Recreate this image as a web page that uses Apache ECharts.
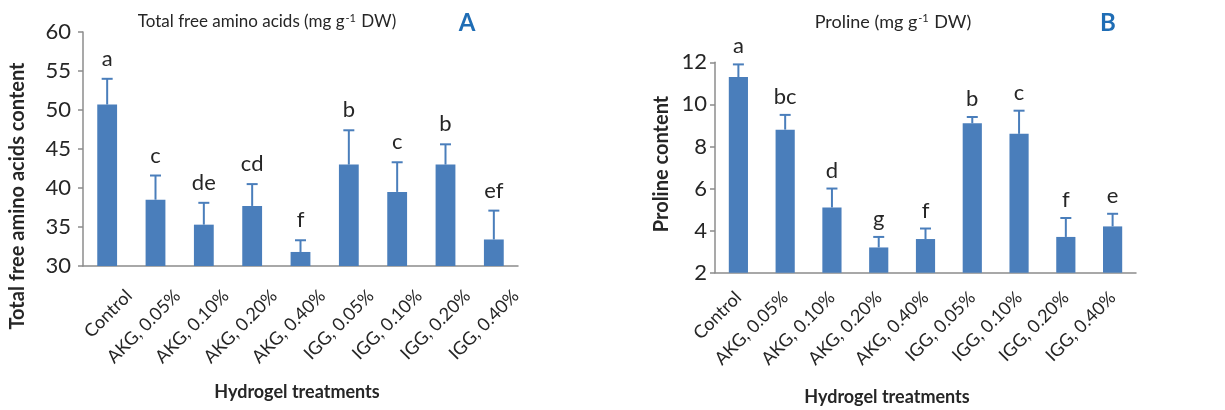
<!DOCTYPE html>
<html>
<head>
<meta charset="utf-8">
<script src="https://cdn.jsdelivr.net/npm/echarts@6/dist/echarts.min.js"></script>
<style>
  html, body { margin: 0; padding: 0; background: #fff; }
  #main { width: 1225px; height: 410px; }
</style>
</head>
<body>
<div id="main"></div>
<script>
// treatments on the x axis (same for both panels)
const categories = ['Control', 'AKG, 0.05%', 'AKG, 0.10%', 'AKG, 0.20%', 'AKG, 0.40%',
                    'IGG, 0.05%', 'IGG, 0.10%', 'IGG, 0.20%', 'IGG, 0.40%'];

// panel A: total free amino acids
const aminoMean = [50.7, 38.5, 35.3, 37.7, 31.8, 43.0, 39.5, 43.0, 33.4];
const aminoSD = [3.3, 3.1, 2.8, 2.8, 1.5, 4.4, 3.8, 2.6, 3.7];
const aminoLetters = ['a', 'c', 'de', 'cd', 'f', 'b', 'c', 'b', 'ef'];
const aminoTicks = [30, 35, 40, 45, 50, 55, 60];

// panel B: proline
const prolineMean = [11.3, 8.8, 5.1, 3.2, 3.6, 9.1, 8.6, 3.7, 4.2];
const prolineSD = [0.6, 0.7, 0.9, 0.5, 0.5, 0.3, 1.1, 0.9, 0.6];
const prolineLetters = ['a', 'bc', 'd', 'g', 'f', 'b', 'c', 'f', 'e'];
const prolineTicks = [2, 4, 6, 8, 10, 12];

const FONT = 'Lato';
const TXT = '#262626';
const BLUE = '#4a7ebb';
const AXIS = '#8c8c8c';

let myChart = echarts.init(document.getElementById('main'));

function xAxisOf(idx, labelOpts) {
    return {
        type: 'category', gridIndex: idx, data: categories,
        axisLine: { lineStyle: { color: AXIS, width: 1.5 } },
        axisTick: { length: 5, lineStyle: { color: AXIS, width: 1.5 } },
        axisLabel: Object.assign({ rotate: 45, fontSize: 18, color: TXT, fontFamily: FONT, interval: 0 }, labelOpts)
    };
}

function yAxisOf(idx, ticks, margin) {
    return {
        type: 'value', gridIndex: idx,
        min: ticks[0], max: ticks[ticks.length - 1], interval: ticks[1] - ticks[0],
        splitLine: { show: false },
        axisLine: { show: true, lineStyle: { color: AXIS, width: 1.5 } },
        axisTick: { show: true, length: 5, lineStyle: { color: AXIS, width: 1.5 } },
        axisLabel: { fontSize: 22, margin: margin, color: TXT, fontFamily: FONT }
    };
}

// error bar (upper half only) plus the significance letter above it
function errorSeries(idx, mean, sd, letters, gap) {
    return {
        type: 'custom', xAxisIndex: idx, yAxisIndex: idx, z: 5,
        data: mean.map((m, i) => [i, m, m + sd[i]]),
        renderItem: function (params, api) {
            let low = api.coord([api.value(0), api.value(1)]);
            let high = api.coord([api.value(0), api.value(2)]);
            let st = { stroke: BLUE, lineWidth: 2 };
            return {
                type: 'group',
                children: [
                    { type: 'line', shape: { x1: low[0], y1: low[1], x2: high[0], y2: high[1] }, style: st },
                    { type: 'line', shape: { x1: high[0] - 5.5, y1: high[1], x2: high[0] + 5.5, y2: high[1] }, style: st },
                    { type: 'text', style: {
                        text: letters[params.dataIndex], x: high[0], y: high[1] - gap,
                        textAlign: 'center', textVerticalAlign: 'bottom',
                        fontSize: 22, fontFamily: FONT, fill: TXT } }
                ]
            };
        }
    };
}

function barSeries(idx, mean) {
    return {
        type: 'bar', xAxisIndex: idx, yAxisIndex: idx, data: mean,
        barWidth: '41%', itemStyle: { color: BLUE }
    };
}

function label(text, x, y, opts) {
    return {
        type: 'text', x: x, y: y, rotation: opts.rotation || 0,
        style: Object.assign({
            text: text, textAlign: 'center', textVerticalAlign: 'middle',
            fontFamily: FONT, fill: TXT, fontSize: 17,
            rich: { sup: { fontSize: 11, verticalAlign: 'top', padding: [0, 1, 8, 1], fill: TXT, fontFamily: FONT } }
        }, opts.style || {})
    };
}

let option = {
    animation: false,
    grid: [
        { left: 83, top: 32, width: 435, height: 234, containLabel: false, outerBoundsMode: 'none' },
        { left: 715, top: 62.3, width: 421, height: 210.4, containLabel: false, outerBoundsMode: 'none' }
    ],
    xAxis: [
        xAxisOf(0, { margin: 5, verticalAlign: 'top', padding: [22, 0, 0, 0] }),
        xAxisOf(1, { margin: 22 })
    ],
    yAxis: [yAxisOf(0, aminoTicks, 12), yAxisOf(1, prolineTicks, 8)],
    series: [
        barSeries(0, aminoMean),
        errorSeries(0, aminoMean, aminoSD, aminoLetters, 9),
        barSeries(1, prolineMean),
        errorSeries(1, prolineMean, prolineSD, prolineLetters, 7)
    ],
    graphic: [
        label('Total free amino acids (mg g{sup|-1} DW)', 267, 22, {}),
        label('A', 467, 23, { style: { fontSize: 24, fontWeight: 'bold', fill: '#1f6db5' } }),
        label('Total free amino acids content', 18, 196, { rotation: Math.PI / 2, style: { fontWeight: 'bold', fontSize: 20 } }),
        label('Hydrogel treatments', 297, 392, { style: { fontWeight: 'bold', fontSize: 18 } }),
        label('Proline (mg g{sup|-1} DW)', 893, 22, { style: { fontSize: 18 } }),
        label('B', 1108, 23, { style: { fontSize: 24, fontWeight: 'bold', fill: '#1f6db5' } }),
        label('Proline content', 662, 164, { rotation: Math.PI / 2, style: { fontWeight: 'bold', fontSize: 20 } }),
        label('Hydrogel treatments', 887, 397, { style: { fontWeight: 'bold', fontSize: 18 } })
    ]
};

myChart.setOption(option);
</script>
</body>
</html>
